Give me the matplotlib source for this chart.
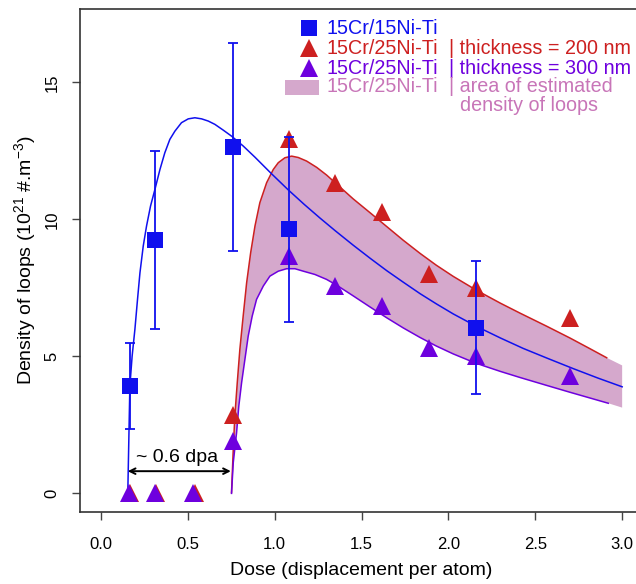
import numpy as np
import matplotlib.pyplot as plt
from matplotlib.lines import Line2D
from matplotlib.patches import Rectangle

plt.rcParams['font.family'] = 'Liberation Sans'
plt.rcParams['mathtext.fontset'] = 'custom'
plt.rcParams['mathtext.rm'] = 'Liberation Sans'
plt.rcParams['mathtext.it'] = 'Liberation Sans:italic'

# colours
c_blue = '#1010EE'
c_red = '#CD2020'
c_purple = '#6E00DE'
c_fill = '#D5A8CC'
c_pink = '#C875B8'

# 15Cr/15Ni-Ti, measured densities with error bars
dose_1515 = [0.17, 0.31, 0.76, 1.08, 2.16]
dens_1515 = [3.92, 9.25, 12.65, 9.64, 6.05]
err_1515 = [1.56, 3.25, 3.80, 3.38, 2.42]

# 15Cr/25Ni-Ti, thickness 200 nm
dose_200 = [0.17, 0.32, 0.54, 0.76, 1.08, 1.35, 1.62, 1.89, 2.16, 2.70]
dens_200 = [0.0, 0.0, 0.0, 2.85, 12.95, 11.34, 10.27, 7.99, 7.50, 6.41]

# 15Cr/25Ni-Ti, thickness 300 nm
dose_300 = [0.16, 0.31, 0.53, 0.76, 1.08, 1.35, 1.62, 1.89, 2.16, 2.70]
dens_300 = [0.0, 0.0, 0.0, 1.90, 8.66, 7.57, 6.84, 5.32, 5.01, 4.28]

# fitted curves
fit_1515_x = [0.155, 0.167, 0.180, 0.196, 0.211, 0.225, 0.244, 0.263, 0.286, 0.311,
              0.340, 0.368, 0.397, 0.426, 0.464, 0.503, 0.541, 0.580, 0.618, 0.656,
              0.704, 0.752, 0.819, 0.887, 0.98, 1.078, 1.17, 1.261, 1.35, 1.452,
              1.55, 1.645, 1.74, 1.837, 1.93, 2.028, 2.16, 2.30, 2.431, 2.57,
              2.72, 2.86, 3.0]
fit_1515_y = [0.0, 3.92, 5.01, 5.99, 7.08, 8.05, 9.03, 9.76, 10.49, 11.09,
              11.82, 12.43, 12.92, 13.22, 13.53, 13.67, 13.71, 13.67, 13.59, 13.47,
              13.26, 13.04, 12.68, 12.27, 11.68, 11.08, 10.55, 10.05, 9.58, 9.06,
              8.58, 8.13, 7.71, 7.29, 6.92, 6.55, 6.10, 5.67, 5.29, 4.93,
              4.55, 4.21, 3.89]

fit_200_x = [0.752, 0.762, 0.771, 0.785, 0.80, 0.819, 0.839, 0.862, 0.887, 0.915,
             0.954, 0.992, 1.021, 1.059, 1.098, 1.136, 1.184, 1.242, 1.299, 1.35,
             1.452, 1.55, 1.645, 1.74, 1.837, 1.93, 2.028, 2.16, 2.30, 2.412,
             2.566, 2.70, 2.815, 2.911]
fit_200_y = [0.03, 1.61, 2.82, 4.04, 5.26, 6.47, 7.69, 8.78, 9.76, 10.61,
             11.34, 11.82, 12.07, 12.25, 12.31, 12.26, 12.13, 11.90, 11.62, 11.33,
             10.75, 10.24, 9.74, 9.24, 8.76, 8.33, 7.92, 7.42, 6.94, 6.58,
             6.10, 5.67, 5.28, 4.95]

fit_300_x = [0.752, 0.762, 0.781, 0.794, 0.81, 0.829, 0.848, 0.871, 0.896, 0.935,
             0.973, 1.021, 1.069, 1.117, 1.165, 1.232, 1.299, 1.357, 1.452, 1.55,
             1.645, 1.74, 1.837, 1.93, 2.028, 2.143, 2.201, 2.30, 2.412, 2.566,
             2.70, 2.81, 2.92]
fit_300_y = [0.0, 1.12, 2.21, 3.19, 4.04, 4.89, 5.74, 6.47, 7.08, 7.57,
             7.93, 8.11, 8.20, 8.20, 8.11, 7.99, 7.81, 7.60, 7.21, 6.80,
             6.41, 6.04, 5.69, 5.38, 5.09, 4.79, 4.66, 4.45, 4.23, 3.94,
             3.69, 3.49, 3.29]

# shaded band continues a little past the curves
band_end_x = 3.0
band_end_hi = 4.67
band_end_lo = 3.13

W, H = 636, 584
fig = plt.figure(figsize=(W / 100, H / 100), dpi=100)
ax = fig.add_axes([80 / W, 1 - 512 / H, 563 / W, 503 / H])


def fpos(px, py):
    return px / W, 1 - py / H


# band
band_x = fit_200_x + [band_end_x, band_end_x] + fit_300_x[::-1]
band_y = fit_200_y + [band_end_hi, band_end_lo] + fit_300_y[::-1]
ax.fill(band_x, band_y, color=c_fill, lw=0, zorder=1)

ax.plot(fit_200_x, fit_200_y, color=c_red, lw=1.1, zorder=2)
ax.plot(fit_300_x, fit_300_y, color=c_purple, lw=1.1, zorder=2)
ax.plot(fit_1515_x, fit_1515_y, color=c_blue, lw=1.1, zorder=3)

ax.plot(dose_200, dens_200, '^', color=c_red, ms=13, mew=0, zorder=4)
ax.plot(dose_300, dens_300, '^', color=c_purple, ms=13, mew=0, zorder=5)
ax.errorbar(dose_1515, dens_1515, yerr=err_1515, fmt='none', ecolor=c_blue,
            elinewidth=1.3, capsize=3.3, capthick=1.3, zorder=6)
ax.plot(dose_1515, dens_1515, 's', color=c_blue, ms=11, mew=0, zorder=7)

# ~0.6 dpa incubation
ax.annotate('', xy=(0.748, 0.81), xytext=(0.155, 0.81),
            arrowprops=dict(arrowstyle='<->', lw=1.4, color='black',
                            shrinkA=0, shrinkB=0), zorder=7)
ax.text(0.44, 1.30, '~ 0.6 dpa', fontsize=14, ha='center', va='center')

ax.set_xlim(-0.12, 3.12)
ax.set_ylim(-0.68, 17.68)
ax.set_xticks(np.arange(0, 3.01, 0.5))
ax.set_xticklabels(['0.0', '0.5', '1.0', '1.5', '2.0', '2.5', '3.0'])
ax.set_yticks([0, 5, 10, 15])
ax.tick_params(labelsize=12, length=6, width=1, direction='out', color='#444444')
ax.tick_params(axis='x', pad=12)
ax.tick_params(axis='y', pad=8.5)
for lab in ax.get_yticklabels():
    lab.set_rotation(90)
    lab.set_va('center')
for s in ax.spines.values():
    s.set_linewidth(1.2)
    s.set_color('#333333')

ax.set_xlabel('Dose (displacement per atom)', fontsize=14, labelpad=7)
ax.set_ylabel('Density of loops (10$^{21}$ #.m$^{-3}$)', fontsize=14, labelpad=5)

# legend, drawn row by row like the original
rows_y = [28, 48, 68, 87, 106]
fs = 14.2
fig.add_artist(Line2D([fpos(309, 0)[0]], [fpos(0, rows_y[0])[1]], marker='s', ms=11,
                      color=c_blue, mew=0, transform=fig.transFigure))
fig.add_artist(Line2D([fpos(309, 0)[0]], [fpos(0, rows_y[1])[1]], marker='^', ms=12.5,
                      color=c_red, mew=0, transform=fig.transFigure))
fig.add_artist(Line2D([fpos(309, 0)[0]], [fpos(0, rows_y[2])[1]], marker='^', ms=12.5,
                      color=c_purple, mew=0, transform=fig.transFigure))
x0, y0 = fpos(285, rows_y[3] + 8)
fig.add_artist(Rectangle((x0, y0), 34 / W, 15 / H, color=c_fill, lw=0,
                         transform=fig.transFigure))

left_txt = ['15Cr/15Ni-Ti', '15Cr/25Ni-Ti', '15Cr/25Ni-Ti', '15Cr/25Ni-Ti']
right_txt = ['', '| thickness = 200 nm', '| thickness = 300 nm', '| area of estimated']
txt_col = [c_blue, c_red, c_purple, c_pink]
for i in range(4):
    fig.text(*fpos(326, rows_y[i]), left_txt[i], color=txt_col[i], fontsize=fs, va='center')
    if right_txt[i]:
        fig.text(*fpos(449, rows_y[i]), right_txt[i], color=txt_col[i], fontsize=fs,
                 va='center')
fig.text(*fpos(460, rows_y[4]), 'density of loops', color=c_pink, fontsize=fs, va='center')

fig.savefig('out.png', dpi=100)
